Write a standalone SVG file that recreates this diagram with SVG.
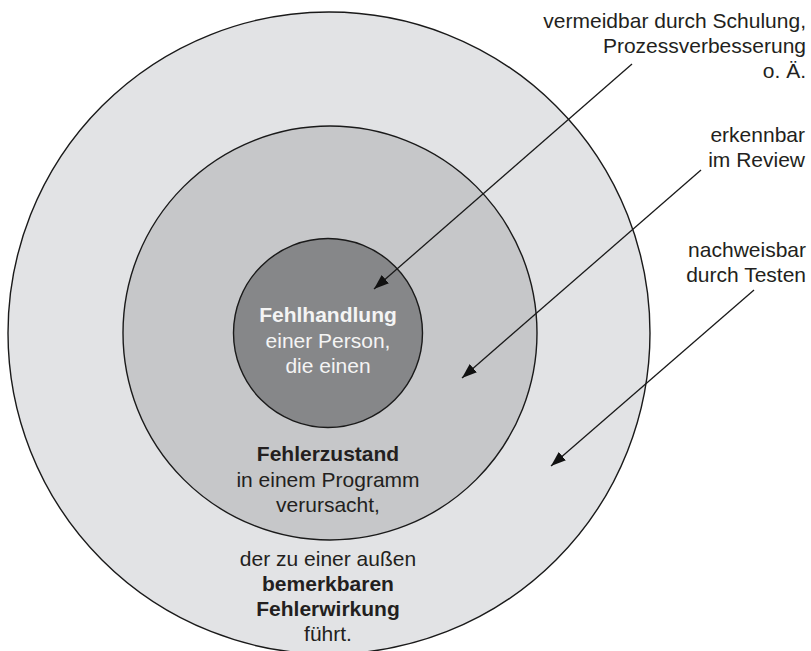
<svg xmlns="http://www.w3.org/2000/svg" width="811" height="651" viewBox="0 0 811 651">
  <style>
    text { font-family: "Liberation Sans", Arial, Helvetica, sans-serif; font-size: 21px; fill: #231f20; }
    .c { text-anchor: middle; }
    .r { text-anchor: end; }
    .b { font-weight: bold; }
    .w { fill: #f4f4f4; }
    .ring { stroke: #1a1a1a; stroke-width: 1.4; }
    .lead { stroke: #1a1a1a; stroke-width: 1.3; fill: none; marker-end: url(#head); }
  </style>
  <defs>
    <marker id="head" markerUnits="userSpaceOnUse" markerWidth="16" markerHeight="12" refX="15" refY="5.5" orient="auto">
      <path d="M0,0 L15,5.5 L0,11 Z" fill="#111"/>
    </marker>
  </defs>
  <rect width="811" height="651" fill="#ffffff"/>

  <!-- outer ring: observable failure -->
  <g id="fehlerwirkung">
    <circle class="ring" cx="329" cy="333" r="321" fill="#e2e3e5"/>
    <text class="c" x="328" y="566">der zu einer außen</text>
    <text class="c b" x="328" y="591">bemerkbaren</text>
    <text class="c b" x="328" y="616">Fehlerwirkung</text>
    <text class="c" x="328" y="641">führt.</text>
  </g>

  <!-- middle ring: defect in the program -->
  <g id="fehlerzustand">
    <circle class="ring" cx="330" cy="333" r="207" fill="#c6c7c9"/>
    <text class="c b" x="328" y="461">Fehlerzustand</text>
    <text class="c" x="328" y="486.5">in einem Programm</text>
    <text class="c" x="328" y="512">verursacht,</text>
  </g>

  <!-- core: human error -->
  <g id="fehlhandlung">
    <circle class="ring" cx="328" cy="333" r="94.5" fill="#868789"/>
    <text class="c b w" x="328" y="322">Fehlhandlung</text>
    <text class="c w" x="328" y="348">einer Person,</text>
    <text class="c w" x="328" y="373">die einen</text>
  </g>

  <!-- side notes -->
  <g id="note-vermeidbar">
    <text class="r" x="806" y="28">vermeidbar durch Schulung,</text>
    <text class="r" x="806" y="53">Prozessverbesserung</text>
    <text class="r" x="806" y="78">o. Ä.</text>
  </g>
  <g id="note-review">
    <text class="r" x="805" y="142">erkennbar</text>
    <text class="r" x="805" y="167">im Review</text>
  </g>
  <g id="note-testen">
    <text class="r" x="806" y="257">nachweisbar</text>
    <text class="r" x="806" y="282">durch Testen</text>
  </g>

  <!-- leader arrows -->
  <g id="connectors">
    <line class="lead" x1="632" y1="64" x2="374" y2="289"/>
    <line class="lead" x1="701" y1="170" x2="462" y2="378"/>
    <line class="lead" x1="754" y1="290" x2="551" y2="466"/>
  </g>
</svg>
